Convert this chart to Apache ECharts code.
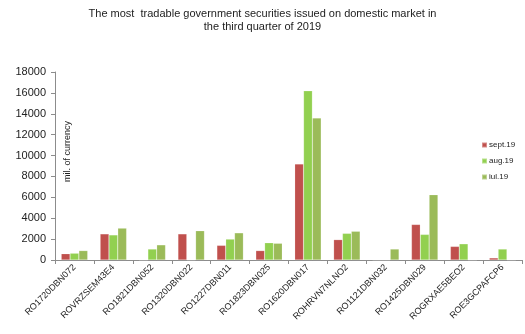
<!DOCTYPE html>
<html>
<head>
<meta charset="utf-8">
<script src="https://cdn.jsdelivr.net/npm/echarts@6/dist/echarts.min.js"></script>
<style>
  html, body { margin: 0; padding: 0; background: #fff; }
  #chart { width: 525px; height: 334px; }
</style>
</head>
<body>
<div id="chart"></div>
<script>
// Securities traded on the domestic market, Q3 2019 (mil. of currency)
const securities = [
  'RO1720DBN072', 'ROVRZSEM43E4', 'RO1821DBN052', 'RO1320DBN022',
  'RO1227DBN011', 'RO1823DBN025', 'RO1620DBN017', 'ROHRVN7NLNO2',
  'RO1121DBN032', 'RO1425DBN029', 'ROGRXAE5BEO2', 'ROE3GCPAFCP6'
];
const sept19 = [600, 2500, 0, 2500, 1400, 900, 9200, 1950, 0, 3400, 1300, 200];
const aug19  = [650, 2400, 1050, 0, 2000, 1650, 16200, 2550, 0, 2450, 1550, 1050];
const iul19  = [900, 3050, 1450, 2800, 2600, 1600, 13600, 2750, 1050, 6250, 0, 0];
const yTicks = { min: 0, max: 18000, step: 2000 };

const chart = echarts.init(document.getElementById('chart'), null, { renderer: 'canvas' });
const font = 'Liberation Sans, Arial, sans-serif';

function barSeries(name, data, color) {
  return {
    name: name,
    type: 'bar',
    data: data,
    barGap: '0%',
    barCategoryGap: '32%',
    itemStyle: { color: color, borderColor: 'rgba(255,255,255,0.35)', borderWidth: 0.5 },
    emphasis: { disabled: true }
  };
}

chart.setOption({
  animation: false,
  textStyle: { fontFamily: font },
  title: {
    text: 'The most  tradable government securities issued on domestic market in\nthe third quarter of 2019',
    left: 'center',
    top: 2,
    textStyle: { fontSize: 11, fontWeight: 'normal', color: '#222', lineHeight: 13, fontFamily: font }
  },
  legend: {
    orient: 'vertical',
    left: 476,
    top: 136,
    itemWidth: 5,
    itemHeight: 5,
    itemGap: 8,
    icon: 'rect',
    textStyle: { fontSize: 8, color: '#222', padding: [0, 0, 0, -3] },
    data: ['sept.19', 'aug.19', 'iul.19']
  },
  grid: { left: 55, right: 3, top: 72, bottom: 74 },
  xAxis: {
    type: 'category',
    data: securities,
    axisLine: { lineStyle: { color: '#8c8c8c', width: 1 } },
    axisTick: { show: true, alignWithLabel: false, length: 4, inside: false, lineStyle: { color: '#8c8c8c' } },
    axisLabel: { rotate: 45, fontSize: 9, color: '#222', margin: 6, interval: 0 }
  },
  yAxis: {
    type: 'value',
    min: yTicks.min,
    max: yTicks.max,
    interval: yTicks.step,
    axisLine: { show: true, lineStyle: { color: '#8c8c8c', width: 1 } },
    axisTick: { show: true, length: 4, lineStyle: { color: '#8c8c8c' } },
    splitLine: { show: false },
    axisLabel: { fontSize: 11, color: '#222', margin: 9, formatter: function (v) { return String(v); } }
  },
  graphic: [{
    type: 'text',
    left: 63,
    top: 121,
    rotation: Math.PI / 2,
    style: { text: 'mil. of currency', fontSize: 9, fill: '#222', fontFamily: font }
  }],
  series: [
    barSeries('sept.19', sept19, '#C0504D'),
    barSeries('aug.19', aug19, '#92D050'),
    barSeries('iul.19', iul19, '#9BBB59')
  ]
});
</script>
</body>
</html>
